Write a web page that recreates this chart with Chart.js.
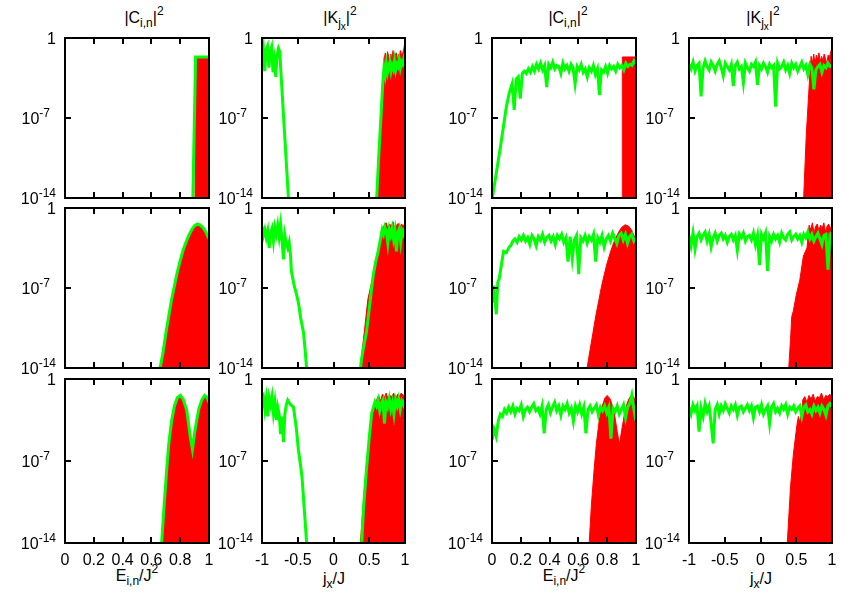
<!DOCTYPE html>
<html>
<head>
<meta charset="utf-8">
<script src="https://cdn.jsdelivr.net/npm/chart.js@4.4.1/dist/chart.umd.min.js"></script>
<style>
  body { margin: 0; background: #fff; width: 854px; height: 598px; position: relative; overflow: hidden;
         font-family: "Liberation Sans", Arial, sans-serif; }
  canvas { position: absolute; }
  .lbl { position: absolute; width: 140px; text-align: center; font-size: 16px; line-height: 16px;
         color: #000; white-space: nowrap; }
  .sub { font-size: 12px; position: relative; top: 4px; }
  .sup { font-size: 12px; position: relative; top: -8px; }
  .sub .sub { font-size: 10px; top: 3px; }
</style>
</head>
<body>
<div class="lbl" style="left:74px;top:10px">|C<span class="sub">i,n</span>|<span class="sup">2</span></div>
<div class="lbl" style="left:270px;top:10px">|K<span class="sub">j<span class="sub">x</span></span>|<span class="sup">2</span></div>
<div class="lbl" style="left:498px;top:10px">|C<span class="sub">i,n</span>|<span class="sup">2</span></div>
<div class="lbl" style="left:693px;top:10px">|K<span class="sub">j<span class="sub">x</span></span>|<span class="sup">2</span></div>
<div class="lbl" style="left:67px;top:568px">E<span class="sub">i,n</span>/J<span class="sup">2</span></div>
<div class="lbl" style="left:264px;top:571px">j<span class="sub">x</span>/J</div>
<div class="lbl" style="left:494px;top:568px">E<span class="sub">i,n</span>/J<span class="sup">2</span></div>
<div class="lbl" style="left:691px;top:571px">j<span class="sub">x</span>/J</div>
<script>
// ── Axes / ticks ────────────────────────────────────────────────────────────
const C_RANGE = [0, 1];
const K_RANGE = [-1, 1];
const C_TICKS = [0, 0.2, 0.4, 0.6, 0.8, 1];
const C_TICK_LABELS = ['0', '0.2', '0.4', '0.6', '0.8', '1'];
const K_TICKS = [-1, -0.5, 0, 0.5, 1];
const K_TICK_LABELS = ['-1', '-0.5', '0', '0.5', '1'];
const Y_TICKS = [1, 1e-7, 1e-14];
const Y_TICK_EXP = ['', '-7', '-14'];

// ── Data (log10 of |C|^2 and |K|^2) ─────────────────────────────────────────
// row 1
const p11RedX = [0.903, 0.903, 1];
const p11RedY = [-15, -1.75, -1.75];
const p11GreenX = [0.887, 0.907, 1];
const p11GreenY = [-14.5, -1.66, -1.66];

const p12GreenLeftY = [-1.6, -0.9, -2.9, -1.0, -0.7, -2.6, -1.2, -0.8, -3.0, -2.0, -3.4, -1.5, -0.9, -1.2]; // x -1 .. -0.75
const p12GreenDropX = [-0.74, -0.72, -0.70, -0.68, -0.66, -0.64, -0.62];
const p12GreenDropY = [-2.5, -4.6, -6.7, -8.8, -10.9, -13.0, -15];
const p12GreenRiseX = [0.60, 0.63, 0.66, 0.69];
const p12GreenRiseY = [-14.5, -10.7, -7.3, -3.9];
const p12GreenRightY = [-3.9, -2.6, -3.2, -2.3, -3.0, -2.5, -2.1, -2.9, -2.4, -2.7, -2.0, -2.8, -2.3, -2.5, -1.9, -2.6, -2.1, -2.3, -1.8, -2.1]; // x 0.69 .. 1
const p12RedRiseX = [0.61, 0.64, 0.67, 0.71];
const p12RedRiseY = [-14.5, -10.8, -6.5, -1.8];
const p12RedTopY = [-1.8, -1.3, -2.4, -1.2, -1.6, -2.5, -1.4, -1.9, -1.1, -2.2, -1.5, -1.3, -2.0, -1.4, -1.7, -1.1, -1.6, -1.3, -0.9, -0.3]; // x 0.71 .. 1

const p13GreenRiseX = [0, 0.02, 0.04, 0.06, 0.08, 0.10, 0.12];
const p13GreenRiseY = [-14.2, -12.6, -11.0, -9.4, -7.7, -6.0, -4.8];
const p13GreenTopY = [-4.0, -6.3, -3.6, -3.4, -5.3, -3.1, -2.9, -3.1, -2.7, -3.0, -2.5, -2.9, -2.3, -2.7, -2.2, -2.8,
  -2.4, -4.3, -2.3, -2.6, -2.1, -2.7, -2.4, -2.5, -3.1, -2.2, -2.7, -2.4, -2.9, -2.3, -2.6, -4.0, -2.5, -2.8, -2.3,
  -3.0, -2.7, -3.4, -2.6, -2.9, -2.4, -3.2, -2.7, -5.0, -2.8, -3.0, -2.5, -3.1, -2.4, -2.7, -2.5, -2.9, -2.3, -2.6,
  -2.4, -2.8, -2.2, -2.5, -2.3, -2.4, -2.0, -2.3]; // x 0.14 .. 1
const p13RedX = [0.905, 0.905, 1];
const p13RedY = [-15, -1.66, -1.66];

const p14GreenY = [-2.3, -2.7, -2.1, -2.9, -2.4, -2.2, -5.1, -2.6, -2.0, -2.5, -2.8, -2.1, -2.4, -2.9, -2.3, -2.0,
  -2.6, -3.3, -2.2, -2.5, -2.8, -2.3, -4.2, -2.4, -2.1, -2.7, -2.5, -3.9, -2.2, -2.6, -2.9, -2.3, -2.5, -2.1, -4.1,
  -2.4, -2.7, -2.2, -2.5, -3.0, -2.3, -2.6, -2.4, -6.0, -2.2, -2.7, -2.5, -2.1, -2.8, -2.4, -3.1, -2.2, -2.6, -2.3,
  -2.9, -2.5, -2.1, -2.7, -2.4, -3.2, -2.3, -2.6, -4.5, -2.8, -2.5, -2.3, -3.0, -2.4, -2.6, -2.2, -2.5, -2.4]; // x -1 .. 1
const p14RedRiseX = [0.60, 0.64, 0.69];
const p14RedRiseY = [-14.5, -8.5, -3.2];
const p14RedTopY = [-3.2, -1.6, -2.2, -1.4, -2.3, -1.5, -1.9, -1.3, -2.1, -1.6, -2.0, -1.4, -1.8, -2.3, -1.5, -1.7, -1.2, -0.9]; // x 0.69 .. 1

// row 2
const p21X = [0.66, 0.68, 0.70, 0.72, 0.74, 0.76, 0.78, 0.80, 0.82, 0.84, 0.86, 0.88, 0.90, 0.92, 0.94, 0.96, 0.98, 1.0];
const p21Y = [-14, -12.7, -11.0, -9.5, -8.0, -6.8, -5.6, -4.6, -3.7, -3.0, -2.4, -1.9, -1.55, -1.4, -1.5, -1.75, -2.15, -2.7];

const p22GreenLeftY = [-1.6, -2.4, -1.9, -2.6, -2.0, -3.5, -2.2, -1.8, -2.9, -1.7, -2.3, -1.5, -2.5, -1.46, -2.8, -4.5, -2.4, -3.1, -3.5, -3.0]; // x -1 .. -0.62
const p22GreenDropX = [-0.60, -0.59, -0.55, -0.52, -0.49, -0.46, -0.42, -0.40, -0.37];
const p22GreenDropY = [-4.2, -5.5, -6.8, -7.5, -8.3, -9.6, -10.9, -12.2, -14.5];
const p22GreenRiseX = [0.37, 0.39, 0.42, 0.46, 0.50, 0.53, 0.555, 0.59, 0.625, 0.66];
const p22GreenRiseY = [-14.5, -13.3, -12.2, -10.9, -8.8, -7.2, -5.9, -4.7, -3.8, -2.6];
const p22GreenRightY = [-2.6, -1.9, -2.3, -1.7, -2.1, -3.1, -1.9, -2.4, -1.8, -2.7, -2.0, -3.8, -2.2, -1.8, -3.0, -2.0, -2.3, -1.7]; // x 0.66 .. 1
const p22RedRiseX = [0.37, 0.40, 0.43, 0.48, 0.555, 0.625, 0.69];
const p22RedRiseY = [-14.5, -12.5, -10.9, -8.0, -5.9, -3.6, -1.9];
const p22RedTopY = [-1.9, -1.4, -1.3, -1.8, -1.4, -1.6, -1.2, -1.9, -1.5, -1.35, -1.7, -1.4, -1.6, -1.3]; // x 0.69 .. 1

const p23GreenStartX = [0.0, 0.01, 0.02, 0.03, 0.04, 0.05, 0.06, 0.08, 0.10, 0.12];
const p23GreenStartY = [-8.3, -6.8, -8.0, -9.3, -6.5, -6.2, -5.4, -3.8, -3.9, -3.4];
const p23GreenTopY = [-3.3, -2.9, -2.7, -3.0, -2.5, -2.8, -2.4, -2.9, -2.6, -3.2, -2.4, -2.7, -3.3, -2.5, -2.8, -2.3,
  -3.0, -2.6, -2.4, -2.9, -2.5, -3.2, -2.4, -2.7, -2.3, -3.0, -2.6, -4.7, -2.5, -4.4, -2.8, -2.4, -5.8, -2.6, -2.9,
  -2.4, -3.1, -2.5, -2.8, -2.3, -4.7, -2.6, -3.0, -2.4, -3.4, -2.7, -2.4, -2.9, -2.2, -2.6, -3.1, -2.4, -2.2, -2.8,
  -2.3, -3.1, -2.5, -2.3, -2.9, -2.6]; // x 0.13 .. 1
const p23RedX = [0.66, 0.68, 0.70, 0.72, 0.74, 0.76, 0.78, 0.80, 0.82, 0.84, 0.86, 0.88, 0.90, 0.925, 0.95, 0.97, 1.0];
const p23RedY = [-14, -12.5, -11.0, -9.5, -8.2, -6.9, -5.8, -4.8, -3.95, -3.2, -2.6, -2.1, -1.7, -1.46, -1.6, -1.95, -2.8];

const p24GreenY = [-2.4, -3.3, -2.2, -3.6, -2.5, -2.2, -2.8, -2.4, -2.1, -2.9, -2.3, -3.4, -2.6, -2.2, -2.9, -2.4,
  -2.2, -2.7, -2.4, -3.0, -2.5, -2.3, -2.8, -2.4, -3.7, -2.3, -2.6, -2.2, -2.9, -2.5, -2.4, -2.8, -2.2, -3.2, -2.4,
  -5.0, -2.3, -2.7, -2.2, -5.5, -2.5, -2.9, -2.3, -2.7, -2.4, -3.0, -2.2, -2.6, -2.8, -2.3, -2.1, -2.8, -2.5, -2.3,
  -2.7, -2.4, -3.0, -2.3, -2.6, -2.1, -2.7, -2.3, -2.9, -2.5, -2.2, -2.7, -3.2, -2.4, -2.3, -5.4, -2.3, -2.1]; // x -1 .. 1
const p24RedRiseX = [0.39, 0.42, 0.437, 0.46, 0.50, 0.55, 0.60, 0.65, 0.68];
const p24RedRiseY = [-14.5, -11.5, -9.5, -9.0, -7.6, -6.3, -4.2, -3.5, -1.5];
const p24RedTopY = [-1.5, -1.9, -1.3, -2.2, -1.6, -1.4, -2.0, -1.5, -1.8, -1.3, -2.1, -1.6, -1.4, -1.9, -1.3]; // x 0.68 .. 1

// row 3
const p31X = [0.671, 0.69, 0.706, 0.72, 0.74, 0.76, 0.78, 0.80, 0.82, 0.845, 0.87, 0.885, 0.90, 0.915, 0.93, 0.95, 0.97, 0.985, 1.0];
const p31Y = [-14, -10.5, -7.8, -5.6, -3.6, -2.3, -1.6, -1.4, -1.7, -2.65, -4.9, -6.0, -4.6, -3.5, -2.5, -1.8, -1.4, -1.55, -2.0];

const p32GreenLeftY = [-1.8, -1.5, -2.6, -1.7, -3.2, -1.6, -2.2, -1.5, -2.9, -2.0, -3.5, -2.4, -3.0, -4.7, -3.2, -5.4, -3.0, -2.2, -1.8, -2.0]; // x -1 .. -0.62
const p32GreenDropX = [-0.60, -0.56, -0.52, -0.49, -0.46, -0.44, -0.41, -0.37];
const p32GreenDropY = [-2.2, -2.4, -4.2, -6.1, -7.4, -8.4, -11.0, -14.5];
const p32GreenRiseX = [0.39, 0.42, 0.46, 0.50, 0.535, 0.58];
const p32GreenRiseY = [-14.5, -11.0, -7.8, -5.0, -2.9, -1.95];
const p32GreenRightY = [-1.95, -2.3, -1.8, -2.7, -2.1, -1.8, -3.8, -2.0, -2.4, -1.7, -2.6, -2.0, -3.0, -1.8, -2.3, -1.7, -2.6, -1.9, -2.2, -1.7]; // x 0.58 .. 1
const p32RedRiseX = [0.37, 0.40, 0.43, 0.46, 0.50, 0.55, 0.605];
const p32RedRiseY = [-14.5, -12.0, -9.5, -7.5, -4.8, -2.8, -1.75];
const p32RedTopY = [-1.75, -1.4, -1.9, -1.3, -1.6, -1.2, -1.7, -1.4, -1.5, -1.2, -1.8, -1.3, -1.5, -1.2, -1.4, -1.3]; // x 0.605 .. 1

const p33GreenY = [-5.2, -4.3, -4.9, -3.6, -3.0, -3.2, -2.6, -2.9, -2.4, -2.8, -2.3, -3.0, -2.5, -2.7, -2.2, -3.2,
  -2.6, -2.4, -2.8, -2.4, -2.1, -2.7, -2.5, -3.0, -2.3, -4.65, -2.6, -2.2, -2.9, -2.4, -2.0, -2.7, -2.3, -3.1, -2.3,
  -2.6, -2.1, -2.9, -2.5, -3.6, -2.3, -2.8, -2.2, -3.0, -2.4, -4.65, -2.6, -2.3, -2.8, -2.5, -2.2, -3.1, -2.4, -2.7,
  -2.3, -2.9, -2.4, -5.1, -2.5, -2.8, -2.3, -3.0, -2.6, -2.2, -3.3, -2.4, -2.1, -1.37, -2.6, -3.6]; // x 0 .. 1
const p33RedX = [0.675, 0.69, 0.71, 0.725, 0.745, 0.765, 0.785, 0.80, 0.82, 0.845, 0.87, 0.885, 0.90, 0.92, 0.94, 0.955, 0.97, 0.985, 1.0];
const p33RedY = [-14, -10.8, -7.6, -5.5, -3.5, -2.3, -1.6, -1.4, -1.7, -2.6, -4.5, -5.6, -4.4, -3.0, -2.0, -1.6, -1.4, -1.55, -2.0];

const p34GreenY = [-2.4, -3.0, -2.2, -2.7, -2.3, -4.5, -2.5, -3.2, -2.1, -2.8, -2.3, -3.8, -5.5, -2.6, -2.2, -3.0,
  -2.3, -2.7, -2.1, -2.5, -2.9, -2.3, -2.6, -2.2, -3.1, -2.4, -2.3, -2.8, -2.5, -2.2, -2.7, -2.3, -3.3, -2.4, -2.3,
  -2.8, -2.2, -3.0, -2.6, -2.3, -3.8, -2.4, -2.1, -2.8, -2.5, -2.9, -2.3, -2.6, -2.2, -3.0, -2.4, -2.6, -2.3, -2.8,
  -2.5, -2.3, -3.2, -2.4, -2.2, -2.8, -2.6, -3.0, -2.3, -2.7, -2.4, -2.9, -2.3, -2.6, -3.1, -2.3, -2.1, -2.4]; // x -1 .. 1
const p34RedRiseX = [0.37, 0.42, 0.46, 0.51, 0.53, 0.55, 0.57, 0.585, 0.59];
const p34RedRiseY = [-14.5, -9.2, -6.4, -3.9, -3.2, -3.7, -3.0, -3.3, -1.8];
const p34RedTopY = [-1.8, -1.5, -2.0, -1.4, -1.7, -1.3, -1.9, -1.5, -1.6, -1.2, -1.8, -1.4, -1.5, -1.3, -1.6]; // x 0.59 .. 1

// ── Helpers ─────────────────────────────────────────────────────────────────
const pairs = (xs, ys) => xs.map((x, i) => ({ x, y: 10 ** ys[i] }));
// noisy stretches sampled on an even grid between x0 and x1
const spread = (x0, x1, ys) => ys.map((y, i) => ({ x: x0 + (x1 - x0) * i / (ys.length - 1), y: 10 ** y }));
const BREAK = [{ x: 0, y: null }];

const RED = '#ff0000';
const GREEN = '#00ff00';

// layout of the 4x3 grid (plot-area edges, px)
const COL_LEFT = [65, 262, 492, 689];
const COL_RIGHT = [209, 405, 636, 832];
const ROW_TOP = [38, 208, 379];
const ROW_BOTTOM = [198, 368, 543];
const PAD_L = 64, PAD_R = 8, PAD_T = 14;
const Y_LABEL_GAP = [9, 15, 9];

const PANELS = [
  { row: 0, col: 0, kind: 'C',
    green: pairs(p11GreenX, p11GreenY),
    red: pairs(p11RedX, p11RedY) },
  { row: 0, col: 1, kind: 'K',
    green: [...spread(-1, -0.75, p12GreenLeftY), ...pairs(p12GreenDropX, p12GreenDropY), ...BREAK,
            ...pairs(p12GreenRiseX, p12GreenRiseY), ...spread(0.69, 1, p12GreenRightY)],
    red: [...pairs(p12RedRiseX, p12RedRiseY), ...spread(0.71, 1, p12RedTopY)] },
  { row: 0, col: 2, kind: 'C',
    green: [...pairs(p13GreenRiseX, p13GreenRiseY), ...spread(0.14, 1, p13GreenTopY)],
    red: pairs(p13RedX, p13RedY) },
  { row: 0, col: 3, kind: 'K',
    green: spread(-1, 1, p14GreenY),
    red: [...pairs(p14RedRiseX, p14RedRiseY), ...spread(0.69, 1, p14RedTopY)] },

  { row: 1, col: 0, kind: 'C',
    green: pairs(p21X, p21Y),
    red: pairs(p21X, p21Y) },
  { row: 1, col: 1, kind: 'K',
    green: [...spread(-1, -0.62, p22GreenLeftY), ...pairs(p22GreenDropX, p22GreenDropY), ...BREAK,
            ...pairs(p22GreenRiseX, p22GreenRiseY), ...spread(0.66, 1, p22GreenRightY)],
    red: [...pairs(p22RedRiseX, p22RedRiseY), ...spread(0.69, 1, p22RedTopY)] },
  { row: 1, col: 2, kind: 'C',
    green: [...pairs(p23GreenStartX, p23GreenStartY), ...spread(0.13, 1, p23GreenTopY)],
    red: pairs(p23RedX, p23RedY) },
  { row: 1, col: 3, kind: 'K',
    green: spread(-1, 1, p24GreenY),
    red: [...pairs(p24RedRiseX, p24RedRiseY), ...spread(0.68, 1, p24RedTopY)] },

  { row: 2, col: 0, kind: 'C',
    green: pairs(p31X, p31Y),
    red: pairs(p31X, p31Y) },
  { row: 2, col: 1, kind: 'K',
    green: [...spread(-1, -0.62, p32GreenLeftY), ...pairs(p32GreenDropX, p32GreenDropY), ...BREAK,
            ...pairs(p32GreenRiseX, p32GreenRiseY), ...spread(0.58, 1, p32GreenRightY)],
    red: [...pairs(p32RedRiseX, p32RedRiseY), ...spread(0.605, 1, p32RedTopY)] },
  { row: 2, col: 2, kind: 'C',
    green: spread(0, 1, p33GreenY),
    red: pairs(p33RedX, p33RedY) },
  { row: 2, col: 3, kind: 'K',
    green: spread(-1, 1, p34GreenY),
    red: [...pairs(p34RedRiseX, p34RedRiseY), ...spread(0.59, 1, p34RedTopY)] },
];

// ── Frame, inward ticks and tick labels (gnuplot look) ───────────────────────
const BASE_FONT = '16px "Liberation Sans", Arial, sans-serif';
const SUP_FONT = '12px "Liberation Sans", Arial, sans-serif';

const framePlugin = {
  id: 'frame',
  afterDatasetsDraw(chart, args, opts) {
    const { ctx, chartArea: a } = chart;
    const { x, y } = chart.scales;
    ctx.save();
    ctx.strokeStyle = '#000';
    ctx.fillStyle = '#000';
    ctx.lineWidth = 2;

    ctx.beginPath();
    opts.ticks.forEach(v => {
      const px = Math.round(x.getPixelForValue(v));
      ctx.moveTo(px, a.top); ctx.lineTo(px, a.top + 6);
      ctx.moveTo(px, a.bottom); ctx.lineTo(px, a.bottom - 6);
    });
    Y_TICKS.forEach(v => {
      const py = Math.round(y.getPixelForValue(v));
      ctx.moveTo(a.left, py); ctx.lineTo(a.left + 6, py);
    });
    ctx.stroke();
    ctx.strokeRect(a.left, a.top, a.right - a.left, a.bottom - a.top);

    // y labels: 1, 10^-7, 10^-14
    ctx.textBaseline = 'middle';
    ctx.textAlign = 'left';
    Y_TICKS.forEach((v, i) => {
      const py = y.getPixelForValue(v) + 2;
      const exp = Y_TICK_EXP[i];
      const xr = a.left - Y_LABEL_GAP[i];
      const base = exp ? '10' : '1';
      ctx.font = SUP_FONT;
      const we = exp ? ctx.measureText(exp).width : 0;
      ctx.font = BASE_FONT;
      const wb = ctx.measureText(base).width;
      ctx.fillText(base, xr - we - wb, py);
      if (exp) {
        ctx.font = SUP_FONT;
        ctx.fillText(exp, xr - we, py - 6);
      }
    });

    // x labels only on the bottom row
    if (opts.showX) {
      ctx.font = BASE_FONT;
      ctx.textAlign = 'center';
      opts.ticks.forEach((v, i) => {
        ctx.fillText(opts.labels[i], x.getPixelForValue(v), a.bottom + 18);
      });
    }
    ctx.restore();
  },
};

// ── Build the 12 panels ─────────────────────────────────────────────────────
PANELS.forEach(p => {
  const isC = p.kind === 'C';
  const range = isC ? C_RANGE : K_RANGE;
  const padB = p.row === 2 ? 34 : 12;
  const w = COL_RIGHT[p.col] - COL_LEFT[p.col] + PAD_L + PAD_R;
  const h = ROW_BOTTOM[p.row] - ROW_TOP[p.row] + PAD_T + padB;

  const cv = document.createElement('canvas');
  cv.width = w;
  cv.height = h;
  cv.style.left = (COL_LEFT[p.col] - PAD_L) + 'px';
  cv.style.top = (ROW_TOP[p.row] - PAD_T) + 'px';
  cv.style.width = w + 'px';
  cv.style.height = h + 'px';
  document.body.appendChild(cv);

  new Chart(cv, {
    type: 'line',
    data: {
      datasets: [
        { data: p.green, borderColor: GREEN, borderWidth: 3, pointRadius: 0, fill: false, spanGaps: false },
        { data: p.red, borderColor: RED, backgroundColor: RED, borderWidth: 1, pointRadius: 0, fill: 'start' },
      ],
    },
    options: {
      responsive: false,
      animation: false,
      devicePixelRatio: 1,
      events: [],
      layout: { padding: { left: PAD_L, right: PAD_R, top: PAD_T, bottom: padB } },
      plugins: {
        legend: { display: false },
        tooltip: { enabled: false },
        frame: {
          ticks: isC ? C_TICKS : K_TICKS,
          labels: isC ? C_TICK_LABELS : K_TICK_LABELS,
          showX: p.row === 2,
        },
      },
      scales: {
        x: { type: 'linear', min: range[0], max: range[1], display: false },
        y: { type: 'logarithmic', min: 1e-14, max: 1, display: false },
      },
    },
    plugins: [framePlugin],
  });
});
</script>
</body>
</html>
